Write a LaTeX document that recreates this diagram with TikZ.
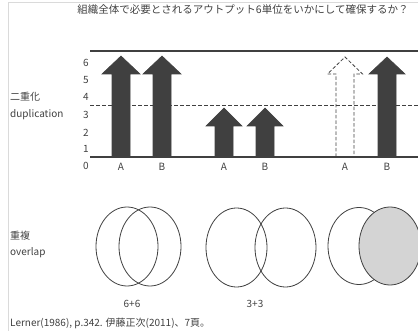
\documentclass[tikz,border=0pt]{standalone}
\usepackage{fontspec}
\setmainfont{Noto Sans CJK JP}
\definecolor{ink}{HTML}{404040}
\definecolor{frame}{HTML}{DADADA}
\definecolor{shade}{HTML}{D4D4D4}
\tikzset{
  txt/.style={text=ink, font=\fontsize{10}{12}\selectfont, inner sep=0pt},
  solidarrow/.style={fill=ink, draw=ink, line width=0.6pt, line join=miter},
  dasharrow/.style={draw=ink, line width=0.8pt, dash pattern=on 3.5pt off 2pt},
  axisline/.style={draw=ink, line width=1.1pt},
  halfline/.style={draw=ink, line width=1pt, dash pattern=on 4pt off 2pt},
  venn/.style={draw=ink, line width=0.8pt},
}
% #1 style, #2 centre x, #3 tip y, #4 head base y, #5 bottom y, #6 head half width
\newcommand\upbar[6]{%
  \draw[#1] (#2-9,#5) -- (#2-9,#4) -- (#2-#6,#4) -- (#2,#3) -- (#2+#6,#4) -- (#2+9,#4) -- (#2+9,#5) -- cycle;}
\begin{document}
\begin{tikzpicture}[x=1pt,y=-1pt]
\useasboundingbox (0,0) rectangle (418,331);
% frame
\draw[frame, line width=0.8pt] (8,331) -- (8,2) -- (418,2);
% title
\node[txt, font=\fontsize{10.5}{12}\selectfont] (title) at (243,10) {組織全体で必要とされるアウトプット6単位をいかにして確保するか？};
% axes
\coordinate (topL) at (90,51); \coordinate (topR) at (418,51);
\coordinate (zeroL) at (90,157); \coordinate (zeroR) at (418,157);
\coordinate (halfL) at (90,106); \coordinate (halfR) at (418,106);
\draw[axisline] (topL) -- (topR);
\draw[halfline] (halfL) -- (halfR);
\draw[axisline] (zeroL) -- (zeroR);
% tick labels
\foreach \v/\y in {6/63,5/80,4/97,3/115,2/133,1/149,0/166}
  \node[txt] (tick\v) at (86,\y) {\v};
% arrows
\upbar{solidarrow}{121}{56}{74}{157}{19}
\upbar{solidarrow}{162}{56}{74}{157}{19}
\upbar{solidarrow}{224}{108}{126}{157}{18}
\upbar{solidarrow}{265}{108}{126}{157}{18}
\upbar{dasharrow}{345}{57}{74}{157}{17.5}
\upbar{solidarrow}{387}{57}{74}{157}{18}
% A/B labels
\node[txt] (la1) at (121,167) {A};
\node[txt] (lb1) at (162,167) {B};
\node[txt] (la2) at (224,167) {A};
\node[txt] (lb2) at (265,167) {B};
\node[txt] (la3) at (345,167) {A};
\node[txt] (lb3) at (387,167) {B};
% left labels
\node[txt, anchor=west] (dupjp) at (10,97) {二重化};
\node[txt, anchor=west] (dupen) at (10,115) {duplication};
\node[txt, anchor=west] (ovjp) at (10,236) {重複};
\node[txt, anchor=west] (oven) at (10,253) {overlap};
% venn diagrams
\draw[venn] (127,246.5) ellipse [x radius=31, y radius=39.5];
\draw[venn] (150,246.5) ellipse [x radius=31, y radius=39.5];
\draw[venn] (236.5,247.5) ellipse [x radius=30.5, y radius=39.5];
\draw[venn] (285.5,247.5) ellipse [x radius=30.5, y radius=39.5];
\draw[venn] (359,246) ellipse [x radius=31, y radius=38.5];
\draw[venn, fill=shade] (390,246) ellipse [x radius=31, y radius=39];
% sums
\node[txt] (sum1) at (132,304) {6+6};
\node[txt] (sum2) at (255,304) {3+3};
% source
\node[txt, anchor=west] (src) at (10,323) {Lerner(1986), p.342. 伊藤正次(2011)、7頁。};
\end{tikzpicture}
\end{document}
